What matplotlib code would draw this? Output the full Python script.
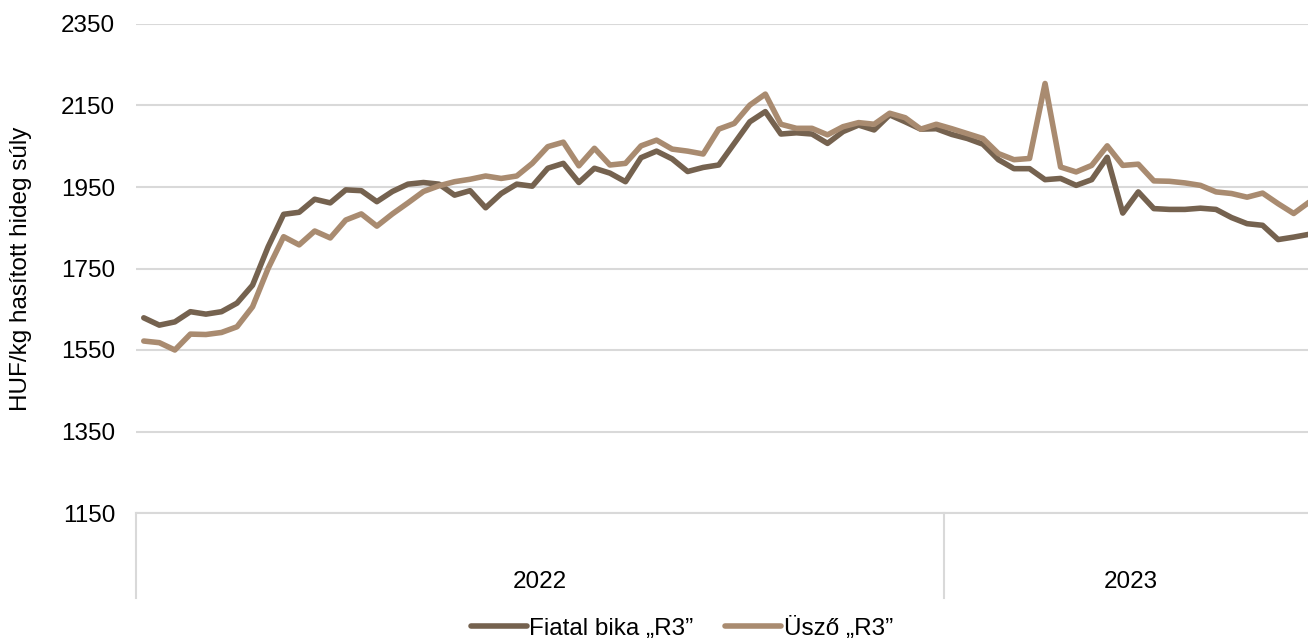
import matplotlib
matplotlib.use("Agg")
import matplotlib.pyplot as plt
import matplotlib.transforms as mtransforms
import numpy as np

plt.rcParams['font.family'] = ['Liberation Sans', 'DejaVu Sans']

# ---- data ----
years = ['2022', '2023']
weeks_per_year = [52, 24]

fiatal_bika = [1629, 1611, 1619, 1644, 1638, 1644, 1665, 1709, 1803, 1883,
               1888, 1920, 1911, 1943, 1941, 1914, 1939, 1957, 1961, 1957,
               1930, 1941, 1899, 1934, 1957, 1952, 1996, 2008, 1961, 1996,
               1984, 1963, 2022, 2038, 2019, 1988, 1998, 2004, 2057, 2110,
               2135, 2080, 2083, 2080, 2057, 2086, 2102, 2090, 2127, 2110,
               2092, 2093, 2079, 2069, 2055, 2017, 1995, 1995, 1968, 1971,
               1954, 1968, 2023, 1886, 1938, 1897, 1895, 1895, 1898, 1895,
               1875, 1860, 1856, 1821, 1827, 1834]

uszo = [1572, 1568, 1550, 1589, 1588, 1593, 1607, 1656, 1750, 1828,
        1808, 1842, 1825, 1869, 1884, 1854, 1884, 1911, 1939, 1953,
        1963, 1969, 1977, 1971, 1977, 2008, 2049, 2060, 2002, 2045,
        2004, 2008, 2051, 2065, 2043, 2038, 2031, 2092, 2106, 2151,
        2178, 2104, 2094, 2094, 2078, 2098, 2108, 2104, 2131, 2120,
        2092, 2104, 2093, 2081, 2069, 2032, 2017, 2020, 2204, 1999,
        1987, 2003, 2051, 2003, 2006, 1965, 1964, 1960, 1954, 1938,
        1934, 1925, 1935, 1909, 1885, 1913]

series_names = ['Fiatal bika \u201eR3\u201d', '\u00dcsz\u0151 \u201eR3\u201d']
colors = ['#75624F', '#A98B70']
y_ticks = [1150, 1350, 1550, 1750, 1950, 2150, 2350]

# ---- figure ----
W, H = 1308, 641
FS = 17.5
fig = plt.figure(figsize=(W / 100, H / 100), dpi=100)
left_px, right_px, top_px, bottom_px = 136, 1317, 24, 513
ax = fig.add_axes([left_px / W, 1 - bottom_px / H,
                   (right_px - left_px) / W, (bottom_px - top_px) / H])

n = sum(weeks_per_year)
x = np.arange(n)
grid_color = '#D9D9D9'

for vals, name, c in zip([fiatal_bika, uszo], series_names, colors):
    ax.plot(x, vals, color=c, lw=4.0, label=name,
            solid_joinstyle='round', solid_capstyle='round', zorder=3)

ax.set_xlim(-0.5, n - 0.5)
ax.set_ylim(y_ticks[0], y_ticks[-1])
ax.set_yticks(y_ticks)
ax.set_yticklabels([str(v) for v in y_ticks], fontsize=FS, color='#000000')
ax.tick_params(axis='y', length=0, pad=15)
ax.set_xticks([])
ax.grid(axis='y', color=grid_color, lw=1.5)
ax.set_axisbelow(True)
for s in ['top', 'right', 'left']:
    ax.spines[s].set_visible(False)
ax.spines['bottom'].set_color(grid_color)
ax.spines['bottom'].set_linewidth(1.5)

ax.set_ylabel('HUF/kg hasított hideg súly', fontsize=FS)
ax.yaxis.set_label_coords(-0.088, 0.5)

# category dividers and year labels
trans = mtransforms.blended_transform_factory(ax.transData, ax.transAxes)
div_len = (598 - 513) / (bottom_px - top_px)
edges = np.concatenate([[0], np.cumsum(weeks_per_year)]) - 0.5
for e in edges:
    ax.plot([e, e], [0, -div_len], color=grid_color, lw=1.5,
            transform=trans, clip_on=False)
label_y = -(582 - 513) / (bottom_px - top_px)
for i, yr in enumerate(years):
    ax.text((edges[i] + edges[i + 1]) / 2, label_y, yr, transform=trans,
            ha='center', va='center', fontsize=FS)

fig.legend(loc='center', bbox_to_anchor=(682 / W, 1 - 628 / H), ncol=2,
           frameon=False, fontsize=FS, handlelength=2.3,
           handletextpad=0.1, columnspacing=1.3)

fig.savefig('out.png', dpi=100)
